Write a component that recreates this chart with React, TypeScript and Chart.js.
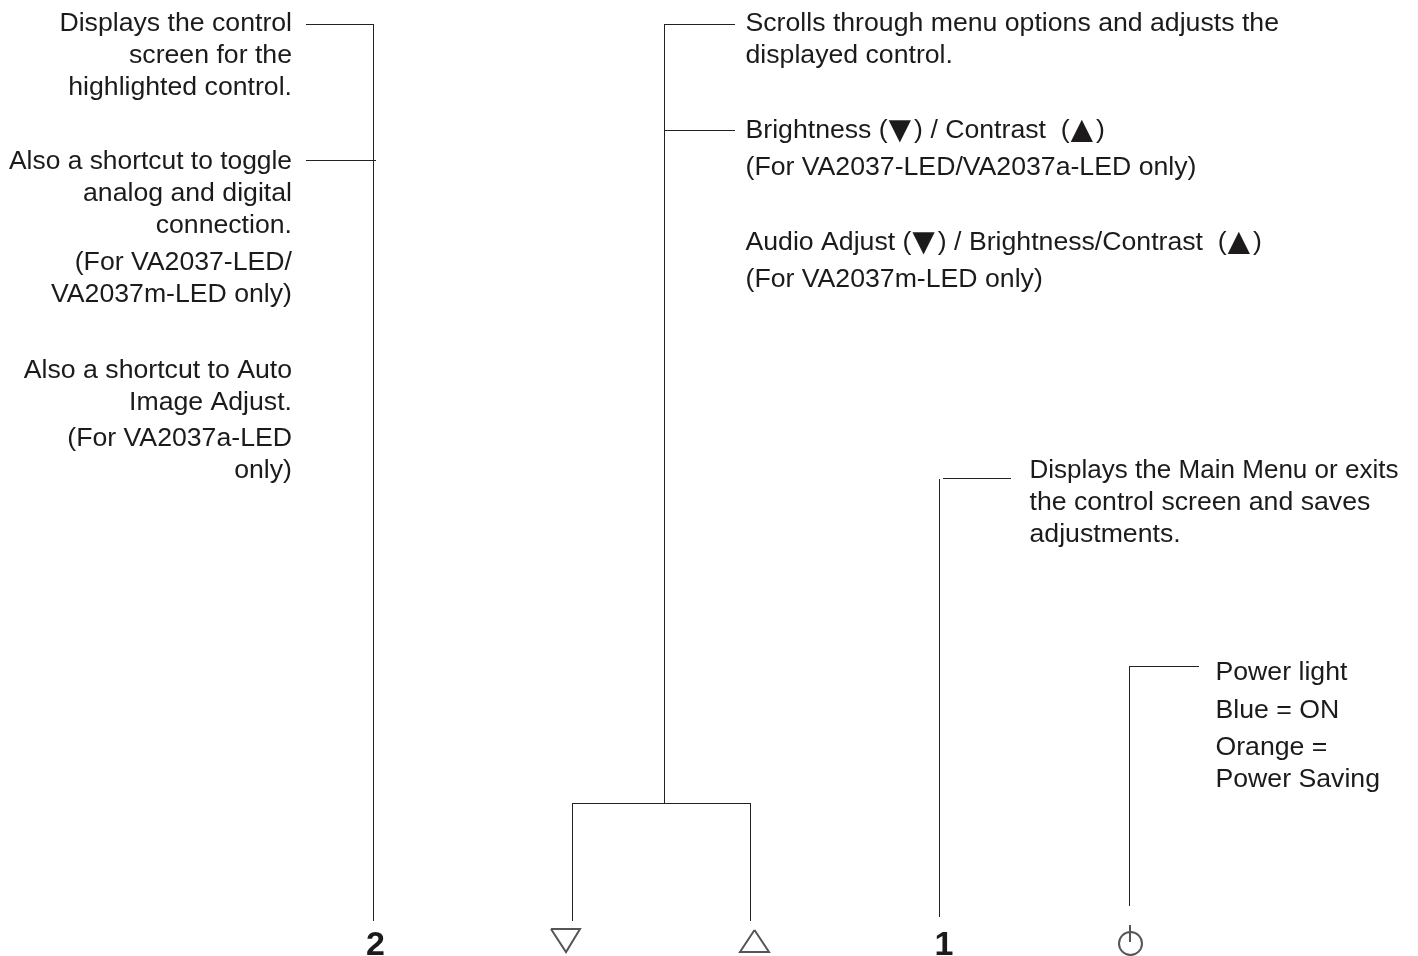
import React, { useEffect, useRef } from "react";
import { Chart, registerables } from "chart.js";

Chart.register(...registerables);

type P = { x: number; y: number };
type Label = { text: string; x: number; y: number; align: CanvasTextAlign; maxWidth?: number };

const WIDTH = 1418;
const HEIGHT = 956;
const TEXT_FONT = '26.67px "Liberation Sans", Arial, sans-serif';
const GLYPH_FONT = '38px "Liberation Sans", "DejaVu Sans", sans-serif';
const BUTTON_FONT = 'bold 34px "Liberation Sans", Arial, sans-serif';
const INK = "#1c1a1a";

const connectorLines: P[][] = [
  [{ x: 306, y: 24.5 }, { x: 373, y: 24.5 }],
  [{ x: 306, y: 160.5 }, { x: 376, y: 160.5 }],
  [{ x: 373.5, y: 24 }, { x: 373.5, y: 921 }],
  [{ x: 664.5, y: 24 }, { x: 664.5, y: 803 }],
  [{ x: 664, y: 24.5 }, { x: 735, y: 24.5 }],
  [{ x: 664, y: 130.5 }, { x: 735, y: 130.5 }],
  [{ x: 572, y: 803.5 }, { x: 751, y: 803.5 }],
  [{ x: 572.5, y: 803 }, { x: 572.5, y: 921 }],
  [{ x: 750.5, y: 803 }, { x: 750.5, y: 921 }],
  [{ x: 943, y: 478.5 }, { x: 1011, y: 478.5 }],
  [{ x: 939.5, y: 479 }, { x: 939.5, y: 917 }],
  [{ x: 1129.5, y: 666 }, { x: 1129.5, y: 906 }],
  [{ x: 1129, y: 666.5 }, { x: 1199, y: 666.5 }],
];

const iconOutlines: P[][] = [
  [{ x: 551, y: 929 }, { x: 580, y: 929 }, { x: 566, y: 952 }, { x: 551, y: 929 }],
  [{ x: 754.5, y: 930 }, { x: 769, y: 952 }, { x: 740, y: 952 }, { x: 754.5, y: 930 }],
  [{ x: 1130, y: 925 }, { x: 1130, y: 942 }],
];
const powerRing: P[] = [{ x: 1130.5, y: 943.5 }];

const leftLines: [string, number, number?][] = [
  ["Displays the control", 31],
  ["screen for the", 63],
  ["highlighted control.", 95],
  ["Also a shortcut to toggle", 169, 283],
  ["analog and digital", 201],
  ["connection.", 233],
  ["(For VA2037-LED/", 270],
  ["VA2037m-LED only)", 302],
  ["Also a shortcut to Auto", 378],
  ["Image Adjust.", 410],
  ["(For VA2037a-LED", 446],
  ["only)", 478],
];
const centerLines: [string, number][] = [
  ["Scrolls through menu options and adjusts the", 31],
  ["displayed control.", 63],
  ["Brightness (▼) / Contrast  (▲)", 138],
  ["(For VA2037-LED/VA2037a-LED only)", 175],
  ["Audio Adjust (▼) / Brightness/Contrast  (▲)", 250],
  ["(For VA2037m-LED only)", 287],
];
const menuLines: [string, number, number?][] = [
  ["Displays the Main Menu or exits", 478, 369],
  ["the control screen and saves", 510],
  ["adjustments.", 542],
];
const powerLines: [string, number][] = [
  ["Power light", 680],
  ["Blue = ON", 718],
  ["Orange =", 755],
  ["Power Saving", 787],
];
const buttonLabels: Label[] = [
  { text: "2", x: 375.5, y: 955, align: "center" },
  { text: "1", x: 944, y: 955, align: "center" },
];

const textLabels: Label[] = [
  ...leftLines.map(([text, y, maxWidth]) => ({ text, y, maxWidth, x: 292, align: "right" as const })),
  ...centerLines.map(([text, y]) => ({ text, y, x: 745.5, align: "left" as const })),
  ...menuLines.map(([text, y, maxWidth]) => ({ text, y, maxWidth, x: 1029.5, align: "left" as const })),
  ...powerLines.map(([text, y]) => ({ text, y, x: 1215.5, align: "left" as const })),
];

function drawLine(ctx: CanvasRenderingContext2D, l: Label, px: number, py: number) {
  ctx.textAlign = l.align;
  if (!/[▼▲]/.test(l.text)) {
    if (l.maxWidth) ctx.fillText(l.text, px, py, l.maxWidth);
    else ctx.fillText(l.text, px, py);
    return;
  }
  // Arrows are larger than the text around them, but keep its advance.
  ctx.textAlign = "left";
  let x = px;
  l.text.split(/([▼▲])/).forEach((run) => {
    ctx.font = TEXT_FONT;
    const advance = ctx.measureText(run).width;
    if (run === "▼" || run === "▲") {
      ctx.font = GLYPH_FONT;
      const w = ctx.measureText(run).width;
      ctx.fillText(run, x + (advance - w) / 2 - 1, py + 4);
    } else if (run) {
      ctx.fillText(run, x, py);
    }
    x += advance;
  });
  ctx.font = TEXT_FONT;
}

const textPlugin = {
  id: "calloutText",
  afterDatasetsDraw(chart: any) {
    const { ctx, scales } = chart;
    ctx.save();
    ctx.textBaseline = "alphabetic";
    ctx.fillStyle = INK;
    ctx.font = TEXT_FONT;
    textLabels.forEach((l) =>
      drawLine(ctx, l, scales.x.getPixelForValue(l.x), scales.y.getPixelForValue(l.y))
    );
    ctx.font = BUTTON_FONT;
    buttonLabels.forEach((l) => {
      ctx.textAlign = l.align;
      ctx.fillText(l.text, scales.x.getPixelForValue(l.x), scales.y.getPixelForValue(l.y));
    });
    ctx.restore();
  },
};

export default function App() {
  const ref = useRef<HTMLCanvasElement | null>(null);
  useEffect(() => {
    document.body.style.margin = "0";
    document.body.style.background = "#ffffff";
    const line = (data: P[], color: string, width: number) => ({
      data,
      showLine: true,
      borderColor: color,
      borderWidth: width,
      pointRadius: 0,
      fill: false,
      tension: 0,
    });
    const chart = new Chart(ref.current as HTMLCanvasElement, {
      type: "scatter",
      data: {
        datasets: [
          ...connectorLines.map((d) => line(d, "#222222", 1)),
          ...iconOutlines.map((d) => line(d, "#555555", 2)),
          {
            data: powerRing,
            pointRadius: 11.5,
            pointBackgroundColor: "rgba(0,0,0,0)",
            pointBorderColor: "#555555",
            pointBorderWidth: 2,
            showLine: false,
          },
        ] as any,
      },
      options: {
        animation: false,
        responsive: false,
        devicePixelRatio: 1,
        layout: { padding: 0, autoPadding: false },
        plugins: { legend: { display: false }, tooltip: { enabled: false }, title: { display: false } },
        scales: {
          x: { type: "linear", min: 0, max: WIDTH, display: false },
          y: { type: "linear", min: 0, max: HEIGHT, reverse: true, display: false },
        },
      },
      plugins: [textPlugin],
    });
    return () => chart.destroy();
  }, []);
  return <canvas ref={ref} width={WIDTH} height={HEIGHT} style={{ display: "block" }} />;
}
